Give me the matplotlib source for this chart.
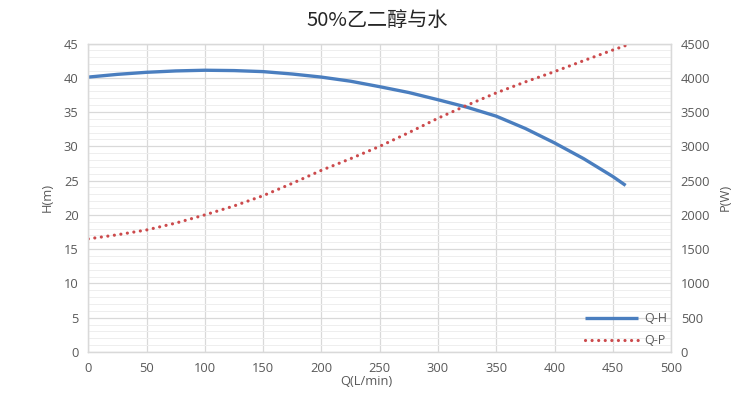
"""Pump curve for 50% glycol / water: head and power vs flow."""

import matplotlib

matplotlib.use("Agg")
import matplotlib.pyplot as plt
from matplotlib.ticker import MultipleLocator

plt.rcParams["font.family"] = ["Open Sans", "Noto Sans CJK SC", "DejaVu Sans"]

# values
flow = [0, 25, 50, 75, 100, 125, 150, 175, 200, 225, 250, 275, 300, 325, 350, 375, 400, 425, 450, 461]
head = [40.1, 40.5, 40.8, 41.0, 41.1, 41.05, 40.9, 40.55, 40.1, 39.5, 38.7, 37.85, 36.8, 35.7,
        34.4, 32.6, 30.5, 28.2, 25.6, 24.3]
power = [1650, 1710, 1780, 1880, 2000, 2130, 2280, 2460, 2650, 2820, 3000, 3200, 3410, 3600,
         3780, 3940, 4090, 4250, 4405, 4470]

TITLE = "50%乙二醇与水"
BLUE = "#4a7ebf"
RED = "#cc4a4c"
TEXT = "#595959"
GRID = "#d9d9d9"

fig = plt.figure(figsize=(7.52, 3.97), dpi=100)
ax = fig.add_axes([0.1174, 0.1134, 0.775, 0.777])
ax2 = ax.twinx()

ax.set_xlim(0, 500)
ax.set_ylim(0, 45)
ax2.set_ylim(0, 4500)
ax.xaxis.set_major_locator(MultipleLocator(50))
ax.yaxis.set_major_locator(MultipleLocator(5))
ax.yaxis.set_minor_locator(MultipleLocator(1))
ax2.yaxis.set_major_locator(MultipleLocator(500))

ax.grid(True, which="major", color=GRID, linewidth=0.9)
ax.grid(True, which="minor", axis="y", color="#eeeeee", linewidth=0.7)
ax.set_axisbelow(True)

for axis in (ax, ax2):
    for spine in axis.spines.values():
        spine.set_color(GRID)
        spine.set_linewidth(0.9)
    axis.tick_params(which="both", length=0, labelsize=9.3, colors=TEXT, pad=7)

(h_line,) = ax.plot(flow, head, color=BLUE, linewidth=2.4, solid_capstyle="butt", label="Q-H")
(p_line,) = ax2.plot(
    flow,
    power,
    color=RED,
    linewidth=2.3,
    linestyle=(0, (0.01, 2.05)),
    dash_capstyle="round",
    label="Q-P",
)

ax.set_xlabel("Q(L/min)", fontsize=9.3, color=TEXT, labelpad=0)
ax.xaxis.set_label_coords(0.478, -0.075)
ax.set_ylabel("H(m)", fontsize=9.3, color=TEXT, labelpad=7)
ax2.set_ylabel("P(W)", fontsize=9.3, color=TEXT, labelpad=6)

fig.text(0.502, 0.948, TITLE, ha="center", va="center", fontsize=14.5, color="#262626",
         family=["Noto Sans CJK SC", "DejaVu Sans"])

leg = ax2.legend(
    handles=[h_line, p_line],
    loc="lower right",
    bbox_to_anchor=(1.012, -0.02),
    frameon=False,
    fontsize=9,
    handlelength=4.2,
    handletextpad=0.5,
    labelspacing=0.7,
)
for txt in leg.get_texts():
    txt.set_color(TEXT)

fig.savefig("out.png", dpi=100)
